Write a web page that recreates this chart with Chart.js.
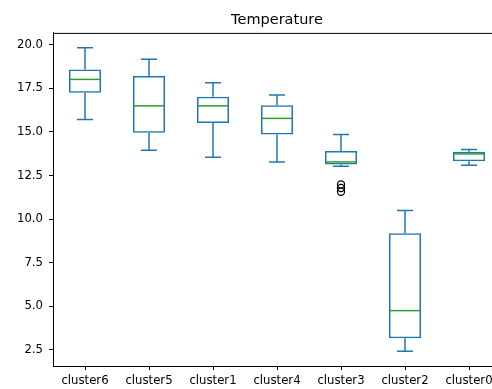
<!DOCTYPE html>
<html lang="en">
<head>
    <meta charset="UTF-8">
    <title>Temperature</title>
    <script src="https://cdn.jsdelivr.net/npm/chart.js@4.4.0/dist/chart.umd.min.js"></script>
    <style>
        * {
            margin: 0;
            padding: 0;
            box-sizing: border-box;
        }

        body {
            background: #fff;
            width: 492px;
            height: 389px;
            overflow: hidden;
        }

        /* wider than the window: the right spine sits just off the picture */
        #wrap {
            width: 520px;
            height: 389px;
        }
    </style>
</head>
<body>
    <div id="wrap">
        <canvas id="tempChart" width="520" height="389"></canvas>
    </div>

    <script>
        // Box plot summary per cluster
        const categories = ['cluster6', 'cluster5', 'cluster1', 'cluster4', 'cluster3', 'cluster2', 'cluster0'];
        const whiskerLow = [15.72, 13.95, 13.55, 13.28, 13.03, 2.40, 13.09];
        const q1 = [17.25, 14.95, 15.52, 14.86, 13.13, 3.15, 13.32];
        const median = [18.02, 16.50, 16.50, 15.78, 13.28, 4.74, 13.74];
        const q3 = [18.59, 18.21, 17.02, 16.54, 13.91, 9.18, 13.86];
        const whiskerHigh = [19.83, 19.18, 17.82, 17.13, 14.86, 10.49, 13.99];
        const outlierCats = ['cluster3', 'cluster3', 'cluster3'];
        const outlierVals = [11.98, 11.78, 11.57];
        const yTicks = [2.5, 5.0, 7.5, 10.0, 12.5, 15.0, 17.5, 20.0];

        const boxBlue = '#1f77b4';
        const medianGreen = '#2ca02c';
        const font = { family: 'DejaVu Sans', size: 11.7 };

        // whiskers, caps, medians and the frame, drawn through the chart's scales
        const boxPlugin = {
            id: 'boxExtras',
            afterDatasetsDraw(chart) {
                const ctx = chart.ctx;
                const xs = chart.scales.x;
                const ys = chart.scales.y;
                const bars = chart.getDatasetMeta(0).data;
                ctx.save();
                ctx.lineWidth = 1.5;
                categories.forEach((c, i) => {
                    const x = xs.getPixelForValue(i);
                    const w = bars[i].width;
                    const cap = w / 4;
                    ctx.strokeStyle = boxBlue;
                    ctx.beginPath();
                    ctx.moveTo(x, ys.getPixelForValue(q1[i]));
                    ctx.lineTo(x, ys.getPixelForValue(whiskerLow[i]));
                    ctx.moveTo(x, ys.getPixelForValue(q3[i]));
                    ctx.lineTo(x, ys.getPixelForValue(whiskerHigh[i]));
                    ctx.moveTo(x - cap, ys.getPixelForValue(whiskerLow[i]));
                    ctx.lineTo(x + cap, ys.getPixelForValue(whiskerLow[i]));
                    ctx.moveTo(x - cap, ys.getPixelForValue(whiskerHigh[i]));
                    ctx.lineTo(x + cap, ys.getPixelForValue(whiskerHigh[i]));
                    ctx.stroke();

                    ctx.strokeStyle = medianGreen;
                    ctx.beginPath();
                    ctx.moveTo(x - w / 2 + 0.75, ys.getPixelForValue(median[i]));
                    ctx.lineTo(x + w / 2 - 0.75, ys.getPixelForValue(median[i]));
                    ctx.stroke();
                });

                // top and right spines
                const a = chart.chartArea;
                ctx.strokeStyle = '#000';
                ctx.lineWidth = 1;
                ctx.beginPath();
                ctx.moveTo(a.left, a.top + 0.5);
                ctx.lineTo(a.right, a.top + 0.5);
                ctx.lineTo(a.right, a.bottom);
                ctx.stroke();
                ctx.restore();
            }
        };

        new Chart(document.getElementById('tempChart').getContext('2d'), {
            type: 'bar',
            data: {
                labels: categories,
                datasets: [{
                    data: categories.map((c, i) => [q1[i], q3[i]]),
                    backgroundColor: 'rgba(0, 0, 0, 0)',
                    borderColor: boxBlue,
                    borderWidth: 1.5,
                    borderSkipped: false,
                    barPercentage: 0.5,
                    categoryPercentage: 1.0
                }, {
                    type: 'line',
                    data: outlierCats.map((c, i) => ({ x: c, y: outlierVals[i] })),
                    showLine: false,
                    pointRadius: 3.6,
                    pointBackgroundColor: 'rgba(0, 0, 0, 0)',
                    pointBorderColor: '#000',
                    pointBorderWidth: 1.2
                }]
            },
            options: {
                responsive: false,
                animation: false,
                layout: {
                    padding: { left: 0, right: 19, top: 0, bottom: 0 }
                },
                plugins: {
                    legend: { display: false },
                    tooltip: { enabled: false },
                    title: {
                        display: true,
                        fullSize: false,
                        text: 'Temperature',
                        color: '#000',
                        font: { family: 'DejaVu Sans', size: 14.5, weight: 'normal' },
                        padding: { top: 12, bottom: 3.5 }
                    }
                },
                scales: {
                    x: {
                        offset: true,
                        grid: {
                            display: true,
                            offset: false,
                            drawOnChartArea: false,
                            drawTicks: true,
                            tickLength: 4,
                            color: '#000'
                        },
                        border: { display: true, color: '#000', width: 1 },
                        ticks: { color: '#000', font: font, padding: 4, maxRotation: 0, autoSkip: false },
                        afterFit(scale) { scale.height = 23; }
                    },
                    y: {
                        min: 1.56,
                        max: 20.69,
                        grid: {
                            display: true,
                            drawOnChartArea: false,
                            drawTicks: true,
                            tickLength: 4,
                            color: '#000'
                        },
                        border: { display: true, color: '#000', width: 1 },
                        ticks: {
                            color: '#000',
                            font: font,
                            padding: 6,
                            callback: (v) => Number(v).toFixed(1)
                        },
                        afterBuildTicks(scale) {
                            scale.ticks = yTicks.map(v => ({ value: v }));
                        },
                        afterFit(scale) { scale.width = 53; }
                    }
                }
            },
            plugins: [boxPlugin]
        });
    </script>
</body>
</html>
